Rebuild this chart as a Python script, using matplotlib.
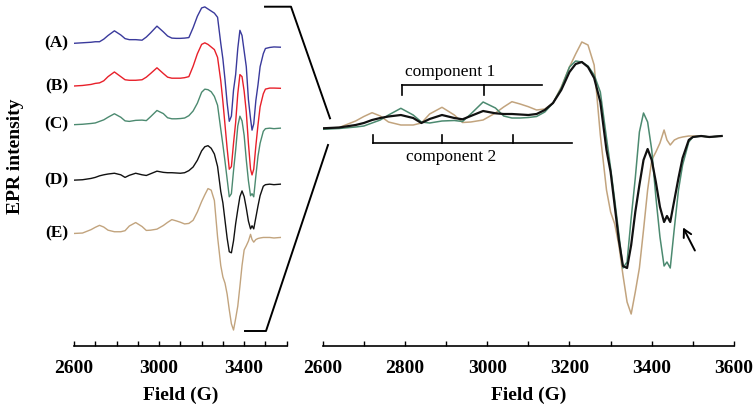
import matplotlib
matplotlib.use("Agg")
import matplotlib.pyplot as plt
from matplotlib.lines import Line2D
from matplotlib.transforms import Affine2D
import numpy as np

plt.rcParams['font.family'] = ['Liberation Serif', 'DejaVu Serif']

# ---------------- data ----------------
field = [2600, 2640, 2680, 2700, 2720, 2740, 2760, 2790, 2820, 2840, 2860, 2890,
         2920, 2940, 2960, 2990, 3020, 3040, 3060, 3080, 3100, 3120, 3140, 3160,
         3180, 3200, 3215, 3230, 3245, 3260, 3275, 3290, 3300, 3310, 3320, 3330,
         3340, 3350, 3360, 3370, 3380, 3390, 3400, 3410, 3420, 3430, 3437, 3445,
         3455, 3465, 3475, 3490, 3500, 3520, 3540, 3570]

spec_A = [0, 1, 2, 3, 3, 8, 15, 24, 16, 9, 7, 7,
          6, 12, 20, 33, 22, 14, 10, 9.5, 9.5, 10, 11, 30,
          52, 68, 70, 66, 62, 58, 50, 0, -30, -70, -115, -150,
          -140, -90, -60, -10, 25, 15, -15, -45, -108, -145, -167, -155,
          -110, -80, -45, -20, -10, -8, -7, -7.5]

spec_B = [0, 1, 3, 5, 6, 10, 18, 27, 18, 12, 11, 11,
          12, 17, 24, 35, 24, 17, 15, 15, 15, 16, 18, 38,
          62, 80, 83, 80, 75, 70, 55, 10, -30, -75, -120, -160,
          -155, -110, -70, -15, 22, 18, -10, -50, -110, -160, -171, -160,
          -115, -75, -40, -15, -6, -4, -4, -4.4]

spec_C = [-1.3, -0.5, 1, 2, 5, 8, 13, 19.7, 13, 6, 5, 7,
          7.5, 6.5, 14, 26, 20, 12, 10, 10, 10.5, 11.5, 16, 25,
          40, 61, 67, 66, 62, 53, 36, -10, -40, -72, -106, -140,
          -134, -90, -50, -4, 15, 6, -22, -69, -109, -138, -134, -140,
          -100, -62, -37, -14, -9, -8, -9, -8]

spec_D = [-0.3, 0.5, 3, 5, 8, 10, 11.5, 13, 10, 5, 9, 13,
          10, 8.7, 12, 17, 14.7, 14, 14, 13.5, 13, 14, 18, 25,
          38, 56, 64, 66, 61, 50, 26, -22, -44, -78, -112, -138,
          -140, -117, -84, -57, -32, -21, -32, -54, -79, -94, -88, -94,
          -72, -50, -30, -12, -9, -8, -9, -8]

spec_E = [-0.3, 0.5, 7, 11.5, 15.3, 12, 6, 3, 3, 5, 14, 20.7,
          13, 5.5, 6, 8, 15, 21, 26.3, 24, 21.3, 18, 19, 25,
          41, 61, 74, 86, 83, 63, -7, -62, -84, -96, -117, -147,
          -174, -186, -164, -140, -102, -62, -32, -24, -15, -2, -12, -17,
          -12, -10, -9, -8, -8, -8, -9, -8]

left_labels = ['(A)', '(B)', '(C)', '(D)', '(E)']
left_series = [spec_A, spec_B, spec_C, spec_D, spec_E]
right_series = [spec_E, spec_C, spec_D]

# ---------------- style ----------------
left_colors = ['#3a3a9c', '#e8202a', '#4c8a70', '#111111', '#c2a47e']
right_colors = ['#c2a47e', '#4c8a70', '#111111']
right_lw = [1.1, 1.1, 1.6]
left_offsets = [302.4, 259.7, 221.7, 165.7, 112.4]
left_scale = 0.52

W, H = 753, 411
fig = plt.figure(figsize=(W / 100, H / 100), dpi=100)
axis_y = 345.7
bottom = (H - axis_y) / H
height = axis_y / H

axL = fig.add_axes([74 / W, bottom, (286.7 - 74) / W, height])
axR = fig.add_axes([322.7 / W, bottom, (734 - 322.7) / W, height])

f = np.array(field)
for s, c, off in zip(left_series, left_colors, left_offsets):
    axL.plot(f, off + left_scale * np.array(s), color=c, lw=1.0)
axL.set_ylim(0, axis_y)

for s, c, lw in zip(right_series, right_colors, right_lw):
    axR.plot(f, np.array(s), color=c, lw=lw)
axR.set_ylim(128 - axis_y, 128)

for ax, labels in ((axL, [2600, 3000, 3400]), (axR, [2600, 2800, 3000, 3200, 3400, 3600])):
    ax.set_xlim(2600, 3600)
    for sp in ('left', 'right', 'top'):
        ax.spines[sp].set_visible(False)
    ax.spines['bottom'].set_linewidth(1.2)
    ax.set_yticks([])
    ax.set_xticks(np.arange(2600, 3601, 100), minor=True)
    ax.set_xticks(labels)
    ax.tick_params(axis='x', which='both', direction='in', length=3.5, width=1.0)
    ax.tick_params(axis='x', which='major', pad=10, labelsize=14)
    for t in ax.get_xticklabels():
        t.set_fontweight('bold')
    ax.set_xlabel('Field (G)', fontsize=14, fontweight='bold', labelpad=7)
    ax.patch.set_alpha(0)

# left labels
px = Affine2D().scale(1 / W, -1 / H).translate(0, 1) + fig.transFigure
for lab, off in zip(left_labels, left_offsets):
    fig.text(68.5, axis_y - off, lab, transform=px, ha='right', va='center',
             fontsize=12.5, fontweight='bold')
fig.text(16, 156, 'EPR intensity', transform=px, rotation=90, ha='center',
         va='center', fontsize=14, fontweight='bold')

# component brackets
comp1_ticks = [2792, 2991]
comp1_end = 3133
comp2_ticks = [2723, 2891, 3062]
comp2_end = 3206
y1, y2 = 43, -14.7
axR.plot([comp1_ticks[0], comp1_end], [y1, y1], color='k', lw=1.2)
for t in comp1_ticks:
    axR.plot([t, t], [y1, y1 - 10], color='k', lw=1.2)
axR.plot([comp2_ticks[0], comp2_end], [y2, y2], color='k', lw=1.2)
for t in comp2_ticks:
    axR.plot([t, t], [y2, y2 + 8], color='k', lw=1.2)
axR.text(2910, 56, 'component 1', ha='center', va='center', fontsize=12.5)
axR.text(2912, -29, 'component 2', ha='center', va='center', fontsize=12.5)

# arrow
axR.annotate('', xy=(3473, -97), xytext=(3508, -125),
             arrowprops=dict(arrowstyle='->,head_length=0.55,head_width=0.3',
                             lw=1.4, color='k'))

# zoom connector lines
fig.add_artist(Line2D([265, 291, 330], [6.7, 6.7, 118.3], transform=px,
                      color='k', lw=1.4))
fig.add_artist(Line2D([245, 266, 328], [331, 331, 145], transform=px,
                      color='k', lw=1.4))

fig.savefig('out.png', dpi=100)
